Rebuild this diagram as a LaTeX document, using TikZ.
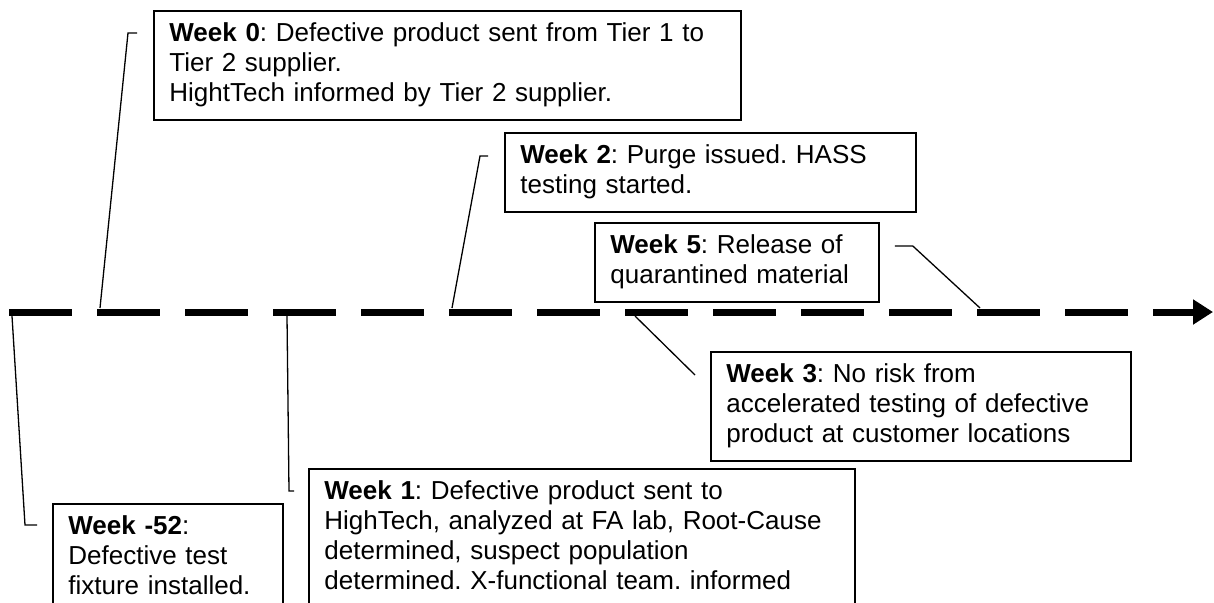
\documentclass[tikz,border=0pt]{standalone}
\usepackage{fontspec}
\setmainfont{Liberation Sans}
\usetikzlibrary{arrows.meta}
\frenchspacing
\newcommand{\wk}[1]{\textbf{Week #1}}

\begin{document}
\begin{tikzpicture}[x=1pt,y=-1pt,
  weekbox/.style={draw,line width=1.8pt,anchor=north west,align=left,
    inner xsep=15.5pt,inner ysep=9.5pt,font=\fontsize{26}{30}\selectfont},
  leader/.style={line width=1.3pt},
  timeline/.style={line width=7pt,dash pattern=on 63pt off 25pt,
    -{Triangle[length=20pt,width=24pt]}}]
\useasboundingbox (0,0) rectangle (1214,602);
\clip (0,0) rectangle (1214,602);
% timeline
\coordinate (tl0) at (9,312);
\coordinate (tl1) at (1213,312);
\draw[timeline] (tl0) -- (tl1);
\coordinate (a52) at (12,316);
\coordinate (a0) at (100,308);
\coordinate (a1) at (287,316);
\coordinate (a2) at (452,308);
\coordinate (a3) at (635,316);
\coordinate (a5) at (980,308);
% boxes
\node[weekbox,text width=556pt] (wk0) at (153,10)
  {\strut\wk{0}: Defective product sent from Tier 1 to\\ Tier 2 supplier.\\ HightTech informed by Tier 2 supplier.\strut};
\node[weekbox,text width=380pt] (wk2) at (504,132)
  {\strut\wk{2}: Purge issued. HASS\\ testing started.\strut};
\node[weekbox,text width=253pt] (wk5) at (594,222)
  {\strut\wk{5}: Release of\\ quarantined material\strut};
\node[weekbox,text width=389pt] (wk3) at (710,351)
  {\strut\wk{3}: No risk from\\ accelerated testing of defective\\ product at customer locations\strut};
\node[weekbox,text width=515pt,text depth=200pt] (wk1) at (308,468)
  {\strut\wk{1}: Defective product sent to\\ HighTech, analyzed at FA lab, Root-Cause\\ determined, suspect population\\ determined. X-functional team. informed};
\node[weekbox,text width=199pt,text depth=200pt] (wk52) at (52,503)
  {\strut\wk{-52}:\\ Defective test\\ fixture installed.};
% leaders
\draw[leader] (a52) -- ([xshift=-27pt,yshift=-22pt]wk52.north west) -- ([xshift=-15pt,yshift=-22pt]wk52.north west);
\draw[leader] (a0) -- ([xshift=-25pt,yshift=-23pt]wk0.north west) -- ([xshift=-16pt,yshift=-23pt]wk0.north west);
\draw[leader] (a1) -- ([xshift=-19pt,yshift=-23pt]wk1.north west) -- ([xshift=-14pt,yshift=-23pt]wk1.north west);
\draw[leader] (a2) -- ([xshift=-24pt,yshift=-24pt]wk2.north west) -- ([xshift=-16pt,yshift=-24pt]wk2.north west);
\draw[leader] (a3) -- ([xshift=-15pt,yshift=-24pt]wk3.north west);
\draw[leader] (a5) -- ([xshift=33pt,yshift=-24pt]wk5.north east) -- ([xshift=15pt,yshift=-24pt]wk5.north east);
\end{tikzpicture}
\end{document}
